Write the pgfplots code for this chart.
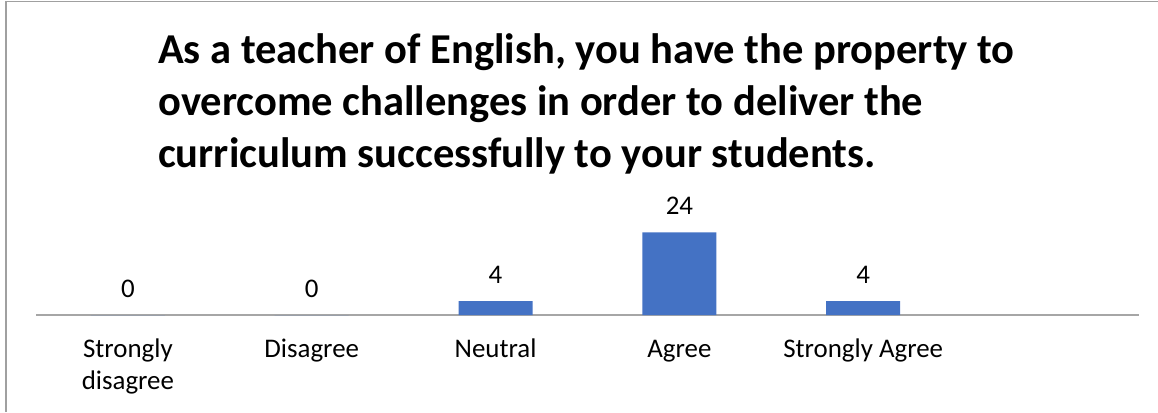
\documentclass[border=0pt]{standalone}
\usepackage{fontspec}
\setmainfont{Carlito}
\usepackage{pgfplots}
\pgfplotsset{compat=1.18}
\definecolor{barblue}{HTML}{4472C4}
\definecolor{axisgray}{HTML}{A6A6A6}
\definecolor{framegray}{HTML}{A0A0A0}

\begin{document}
\begin{tikzpicture}[x=1bp,y=1bp]
\path[use as bounding box] (0,0) rectangle (1158,412);
% chart frame (left and top edges only are visible)
\draw[framegray, line width=1.5bp] (6,0) -- (6,410.5) -- (1158,410.5);

% title, three left-aligned lines
\begin{scope}[every node/.style={anchor=base west, inner sep=0pt, font=\fontsize{42.7}{52}\selectfont\bfseries}]
\node at (158,349) {As a teacher of English, you have the property to};
\node at (158,297) {overcome challenges in order to deliver the};
\node at (158,245) {curriculum successfully to your students.};
\end{scope}

\begin{axis}[
    at={(36bp,97bp)}, anchor=south west,
    scale only axis,
    width=1103bp, height=103.2bp,
    xmin=-0.5, xmax=5.5,
    ymin=0, ymax=30,
    axis x line*=bottom,
    hide y axis,
    x axis line style={axisgray, line width=1.5bp},
    xtick={0,1,2,3,4},
    xticklabels={{\strut Strongly\\disagree},{\strut Disagree},{\strut Neutral},{\strut Agree},{\strut Strongly Agree}},
    major tick length=0pt,
    xticklabel style={align=center, anchor=north, inner sep=0pt, yshift=-19.5bp,
        font=\fontsize{27}{32.5}\selectfont},
    /pgf/number format/assume math mode=true,
    clip=false,
    ybar, bar width=74bp,
    nodes near coords,
    every node near coord/.append style={anchor=center, yshift=26.5bp, inner sep=0pt,
        font=\fontsize{27}{30}\selectfont, text=black},
]
\addplot[fill=barblue, draw=none] coordinates {
    (0,0) (1,0) (2,4) (3,24) (4,4)
};
\end{axis}
\end{tikzpicture}
\end{document}
